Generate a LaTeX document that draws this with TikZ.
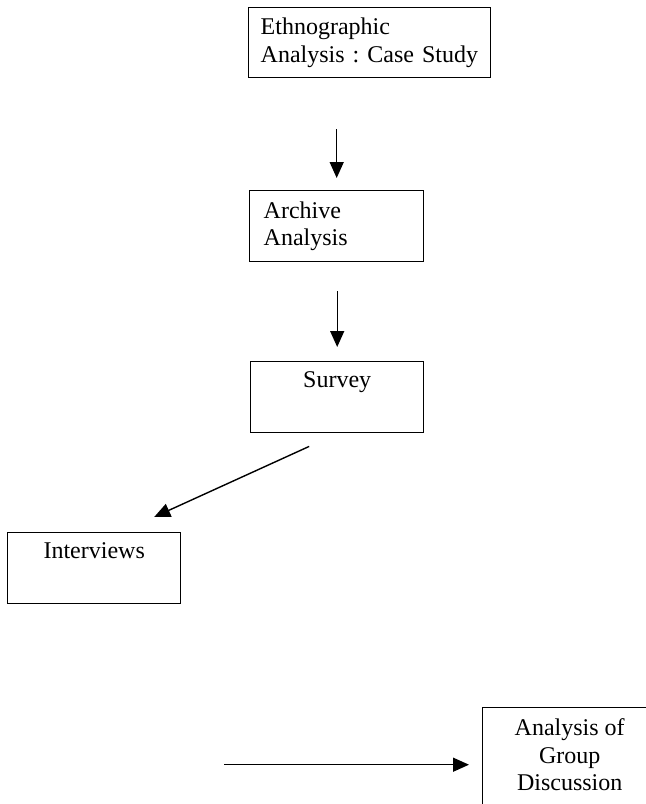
\documentclass[tikz,border=0pt]{standalone}
\usepackage{fontspec}
\setmainfont{Liberation Serif}
\usetikzlibrary{arrows.meta}
\begin{document}
\begin{tikzpicture}[x=0.5pt,y=-0.5pt]
      \useasboundingbox (0,0) rectangle (646,804);
      \tikzset{B/.style = {draw, line width=0.7pt, anchor=north west, inner xsep=7pt, inner ysep=0pt, minimum height=35.5pt, font=\fontsize{12}{13.8}\selectfont\frenchspacing}}
      \tikzset{E/.style = {draw, line width=0.7pt, -{Triangle[width=7pt,length=8pt]}}}
      \node[B, text width=109pt, inner xsep=6pt, align=left, minimum height=35pt](eth) at (248,7) {Ethnographic\\Analysis : Case Study};
      \node[B, text width=73pt, align=left](arch) at (249,190) {Archive\\Analysis};
      \node[B, minimum width=86.5pt, align=center](surv) at (250,361) {Survey\\\strut};
      \node[B, minimum width=86.5pt, align=center](intv) at (7,532) {Interviews\\\strut};
      \node[B, inner xsep=2pt, minimum width=120pt, minimum height=50pt](grp) at (482,707) {\begin{tabular}{@{}c@{}}Analysis of\\Group\\Discussion\end{tabular}\rule{33pt}{0pt}};
      \draw[E, shorten <=25.5pt, shorten >=6pt] (arch.north |- eth.south) to (arch.north);
      \draw[E, shorten <=14.5pt, shorten >=7pt] (surv.north |- arch.south) to (surv.north);
      \draw[E] ([xshift=-14pt,yshift=-6.5pt]surv.south) to ([xshift=30pt,yshift=7.5pt]intv.north);
      \draw[E, shorten >=6.5pt] ([xshift=-129pt,yshift=-3.5pt]grp.west) to ([yshift=-3.5pt]grp.west);
\end{tikzpicture}
\end{document}
